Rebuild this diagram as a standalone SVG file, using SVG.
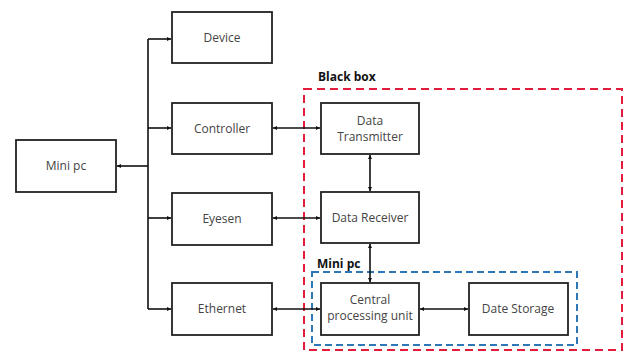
<svg xmlns="http://www.w3.org/2000/svg" width="625" height="352" viewBox="0 0 625 352">
<style>
.box{fill:#fff;stroke:#222;stroke-width:1.8}
.t{font-family:"Open Sans","Noto Sans",sans-serif;font-size:12px;fill:#444;text-anchor:middle}
.lbl{font-family:"Open Sans","Noto Sans",sans-serif;font-size:12px;font-weight:bold;fill:#111}
.ln{fill:none;stroke:#111;stroke-width:1.6}
.red{fill:none;stroke:#e31b3c;stroke-width:2;stroke-dasharray:8 5}
.blue{fill:none;stroke:#2f78b7;stroke-width:2;stroke-dasharray:7 4}
</style>
<defs>
<marker id="ah" viewBox="0 0 6 6" refX="6" refY="3" markerWidth="4" markerHeight="4" orient="auto-start-reverse" markerUnits="userSpaceOnUse">
<path d="M0,0 L6,3 L0,6 z" fill="#111"/>
</marker>
</defs>
<g id="groups">
<rect class="red" x="304" y="89" width="318" height="261"/>
<text class="lbl" x="318" y="81">Black box</text>
<rect class="blue" x="312" y="272" width="265" height="73"/>
<text class="lbl" x="317" y="268">Mini pc</text>
</g>
<g id="connectors">
<path class="ln" d="M148,39 V309"/>
<line class="ln" x1="148" y1="166" x2="117" y2="166" marker-end="url(#ah)"/>
<line class="ln" x1="148" y1="39" x2="171" y2="39" marker-end="url(#ah)"/>
<line class="ln" x1="148" y1="128" x2="171" y2="128" marker-end="url(#ah)"/>
<line class="ln" x1="148" y1="218" x2="171" y2="218" marker-end="url(#ah)"/>
<line class="ln" x1="148" y1="309" x2="171" y2="309" marker-end="url(#ah)"/>
<line class="ln" x1="273" y1="128" x2="320" y2="128" marker-start="url(#ah)" marker-end="url(#ah)"/>
<line class="ln" x1="273" y1="218" x2="320" y2="218" marker-start="url(#ah)" marker-end="url(#ah)"/>
<line class="ln" x1="273" y1="309" x2="320" y2="309" marker-start="url(#ah)" marker-end="url(#ah)"/>
<line class="ln" x1="370" y1="155" x2="370" y2="191" marker-start="url(#ah)" marker-end="url(#ah)"/>
<line class="ln" x1="370" y1="244" x2="370" y2="282" marker-start="url(#ah)" marker-end="url(#ah)"/>
<line class="ln" x1="420" y1="309" x2="468" y2="309" marker-start="url(#ah)" marker-end="url(#ah)"/>
</g>
<g id="minipc"><rect class="box" x="16" y="140" width="100" height="52"/><text class="t" x="66" y="170">Mini pc</text></g>
<g id="device"><rect class="box" x="172" y="12" width="100" height="51"/><text class="t" x="222" y="42">Device</text></g>
<g id="controller"><rect class="box" x="172" y="103" width="100" height="51"/><text class="t" x="222" y="133">Controller</text></g>
<g id="eyesen"><rect class="box" x="172" y="193" width="100" height="52"/><text class="t" x="222" y="223">Eyesen</text></g>
<g id="ethernet"><rect class="box" x="172" y="283" width="100" height="52"/><text class="t" x="222" y="313">Ethernet</text></g>
<g id="transmitter"><rect class="box" x="321" y="103" width="98" height="51"/><text class="t" x="370" y="125">Data</text><text class="t" x="370" y="141">Transmitter</text></g>
<g id="receiver"><rect class="box" x="321" y="192" width="98" height="51"/><text class="t" x="370" y="222">Data Receiver</text></g>
<g id="cpu"><rect class="box" x="321" y="283" width="98" height="52"/><text class="t" x="370" y="304">Central</text><text class="t" x="370" y="320">processing unit</text></g>
<g id="storage"><rect class="box" x="469" y="283" width="99" height="52"/><text class="t" x="518" y="313">Date Storage</text></g>
</svg>
